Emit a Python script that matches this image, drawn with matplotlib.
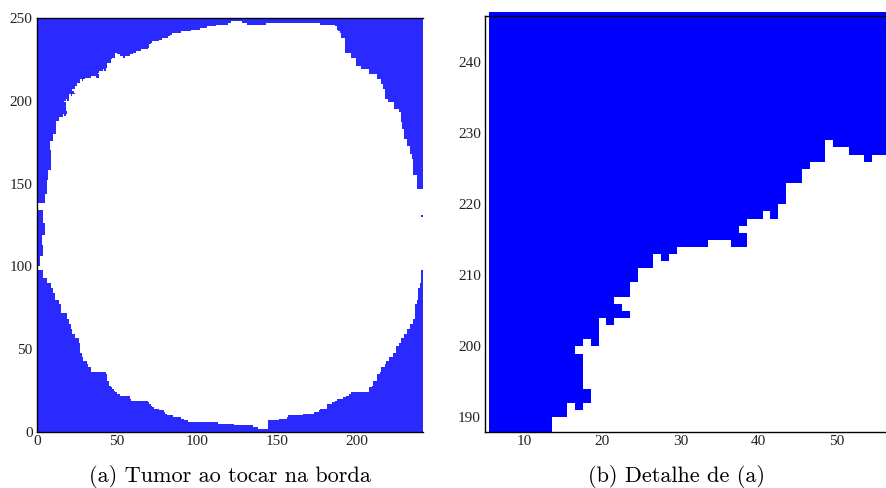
import numpy as np
import matplotlib.pyplot as plt
from matplotlib.colors import ListedColormap

# lattice of the simulation (columns x, rows y)
ncols = 241
nrows = 250
last_row = 247

# left edge of the tumour: first white column, from the given row upwards
left_rows = [2, 3, 4, 5, 6, 7, 8, 9, 10, 11, 12, 13, 14, 15, 16, 17, 18, 19, 20,
             22, 23, 24, 25, 26, 27, 28, 31, 35, 36, 39, 41, 43, 45, 48, 54, 57,
             59, 62, 65, 68, 72, 77, 80, 84, 87, 90, 93, 98, 100, 106, 113, 119,
             126, 134, 138, 144, 152, 158, 170, 176, 180, 188, 190, 192, 194, 199,
             200, 201, 204, 205, 206, 207, 209, 211, 213, 214, 215, 216, 217, 218,
             219, 220, 223, 225, 226, 229, 230, 231, 232, 234, 235, 236, 237, 238,
             239, 240, 241, 242, 243, 244, 245, 246, 247]
left_cols = [138, 135, 123, 113, 94, 92, 90, 85, 81, 80, 79, 76, 73, 72, 71, 70, 69, 59, 58,
             52, 50, 49, 48, 47, 46, 45, 44, 43, 34, 32, 31, 29, 28, 27, 26, 24,
             22, 21, 20, 19, 15, 14, 11, 10, 9, 6, 4, 0, 2, 4, 3, 5,
             4, 0, 5, 6, 7, 9, 8, 10, 12, 14, 16, 19, 18, 17,
             18, 20, 24, 23, 22, 24, 25, 27, 30, 34, 39, 38, 39, 41,
             43, 44, 46, 47, 49, 62, 65, 69, 70, 71, 72, 76, 78, 82,
             83, 84, 90, 96, 102, 106, 112, 119, 121]

# right edge of the tumour: last white column, from the given row upwards
right_rows = [2, 7, 8, 9, 10, 11, 12, 13, 14, 17, 18, 19, 20, 21, 22, 23, 24, 27, 28,
              31, 35, 36, 39, 41, 43, 45, 48, 52, 54, 57, 59, 62, 65, 68, 77, 80,
              87, 90, 98, 147, 155, 165, 168, 173, 177, 183, 187, 193, 195, 199,
              201, 207, 210, 213, 216, 219, 221, 226, 229, 238, 241, 242, 243, 245,
              246, 247]
right_cols = [143, 150, 155, 156, 165, 172, 175, 176, 180, 183, 185, 186, 190, 192, 194, 195, 206, 208, 209,
              211, 213, 214, 216, 217, 219, 221, 223, 225, 226, 228, 230, 232, 234, 235, 236, 237,
              238, 239, 240, 236, 234, 233, 232, 230, 228, 227, 226, 225, 222, 218,
              216, 215, 214, 211, 206, 201, 198, 195, 191, 189, 188, 187, 186, 185,
              176, 127]

# blue cells left inside the white region (row, first col, last col)
speck_rows = [130, 191, 200, 203, 212, 214, 218, 226, 227, 228, 246]
speck_start = [240, 17, 19, 21, 28, 37, 42, 54, 52, 50, 131]
speck_end = [240, 17, 19, 21, 28, 38, 42, 54, 57, 59, 142]

# window of the detail view
det_cols = (6, 56)
det_rows = (188, 246)

L = np.full(nrows, ncols)
R = np.full(nrows, -1)
for r, c in zip(left_rows, left_cols):
    L[r:] = c
for r, c in zip(right_rows, right_cols):
    R[r:] = c
L[last_row + 1:] = ncols

white = np.zeros((nrows, ncols), dtype=bool)
for j in range(nrows):
    if R[j] >= L[j]:
        white[j, L[j]:R[j] + 1] = True
for r, a, b in zip(speck_rows, speck_start, speck_end):
    white[r, a:b + 1] = False

blue = '#0000ff'
tick_family = 'Liberation Serif'
tick_size = 11

fig = plt.figure(figsize=(8.86, 4.88), dpi=100)
W, H = 886.0, 488.0

# (a) whole lattice
ax1 = fig.add_axes([36.7 / W, (H - 431.7) / H, 386.0 / W, 413.4 / H])
ax1.pcolormesh(np.arange(ncols + 1), np.arange(nrows + 1), np.zeros((nrows, ncols)),
               cmap=ListedColormap([blue]), edgecolors='#2a2aff', linewidth=0.12)
rgba = np.zeros((nrows, ncols, 4))
rgba[white] = [1, 1, 1, 1]
ax1.imshow(rgba, extent=[0, ncols, 0, nrows], origin='lower',
           interpolation='nearest', aspect='auto', zorder=3)
ax1.set_xlim(0, ncols)
ax1.set_ylim(0, nrows)
ax1.set_xticks([0, 50, 100, 150, 200])
ax1.set_yticks([0, 50, 100, 150, 200, 250])

# (b) zoom on the upper left corner
ax2 = fig.add_axes([485.0 / W, (H - 431.7) / H, 401.5 / W, 415.7 / H])
c0, c1 = det_cols
r0, r1 = det_rows
sub = white[r0:r1 + 1, c0:c1 + 1].astype(float)
mesh = ax2.pcolormesh(np.arange(c0 - 0.5, c1 + 1.0), np.arange(r0, r1 + 2), sub,
                      cmap=ListedColormap([blue, 'white']), vmin=0, vmax=1)
mesh.set_clip_on(False)
ax2.set_xlim(4.97, 56.35)
ax2.set_ylim(188, 246.5)
ax2.set_xticks([10, 20, 30, 40, 50])
ax2.set_yticks([190, 200, 210, 220, 230, 240])

for ax in (ax1, ax2):
    ax.spines['right'].set_visible(False)
    for s in ('top', 'left', 'bottom'):
        ax.spines[s].set_linewidth(1.0)
        ax.spines[s].set_zorder(5)
    ax.tick_params(length=0)
    ax.tick_params(axis='x', pad=2.5)
    ax.tick_params(axis='y', pad=3)
    for lab in ax.get_xticklabels() + ax.get_yticklabels():
        lab.set_fontfamily(tick_family)
        lab.set_fontsize(tick_size)
        lab.set_color('#222222')

fig.text(230 / W, 1 - 477 / H, '(a) Tumor ao tocar na borda', family='cmr10',
         fontsize=16, ha='center', va='center')
fig.text(677 / W, 1 - 477 / H, '(b) Detalhe de (a)', family='cmr10',
         fontsize=16, ha='center', va='center')

fig.savefig('out.png', dpi=100)
